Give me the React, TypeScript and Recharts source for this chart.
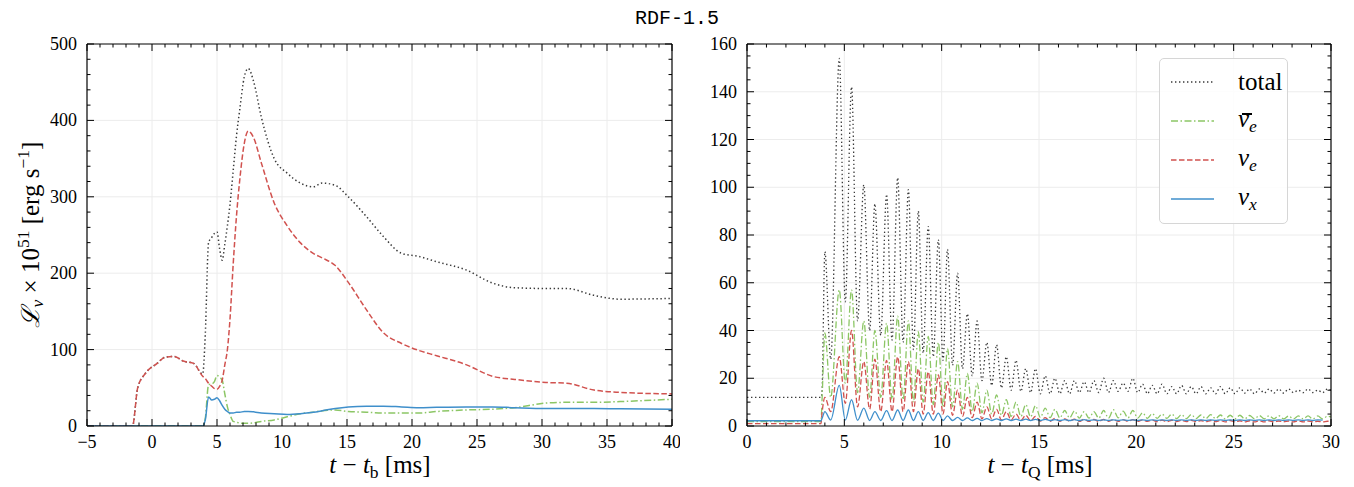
import { LineChart, Line, XAxis, YAxis, ReferenceLine, Legend } from 'recharts';

const SERIF = "'Liberation Serif', 'DejaVu Serif', serif";
const MONO = "'Liberation Mono', 'DejaVu Sans Mono', monospace";

// left panel: t - t_b [ms]
const tb = [-5, -1.5, -1.1, -0.5, 0.4, 1.0, 1.7, 2.4, 3.2, 3.9, 4.1, 4.35, 4.6, 4.8, 5.0, 5.2, 5.4, 5.6, 5.8, 6.0, 6.25, 6.5, 6.75, 7.1, 7.4, 7.8, 8.4, 9.4, 10.4, 11.4, 12.4, 13.1, 14.1, 15.1, 16.5, 17.8, 19.2, 20.5, 21.9, 24.2, 26.2, 27.9, 30.3, 31.9, 34, 36, 40];
const totalB = [0, 0, 50, 69, 82, 90, 91, 85, 82, 68, 120, 240, 247, 252, 254, 232, 217, 238, 262, 290, 335, 380, 414, 457, 468, 452, 405, 350, 331, 318, 313, 318, 315, 300, 274, 248, 226, 222, 215, 204, 187, 181, 180, 180, 171, 166, 167];
const nuebarB = [0, 0, 0, 0, 0, 0, 0, 0, 0, 0, 10, 54, 55, 58, 66, 64, 60, 42, 25, 15, 6, 5, 4, 3.5, 3.5, 4, 6, 8, 12, 16, 18, 20, 21, 19, 18, 17, 17, 17, 19, 21, 22, 24, 30, 31, 31, 32, 35];
const nueB = [0, 0, 50, 69, 82, 90, 91, 85, 82, 65, 62, 56, 52, 49, 48, 52, 60, 80, 100, 140, 213, 275, 322, 370, 386, 378, 345, 292, 262, 240, 226, 220, 210, 188, 152, 122, 108, 99, 92, 80, 65, 61, 57, 56, 47, 44, 42];
const nuxB = [0, 0, 0, 0, 0, 0, 0, 0, 0, 0, 8, 38, 34, 35, 37, 33, 27, 22, 19, 17, 17, 18, 18, 19, 19, 18.5, 17, 16, 15, 16, 18, 20, 23, 25, 26, 26, 25, 24, 24.5, 25, 25, 24, 23, 23, 23, 22.5, 22];

// right panel: t - t_Q [ms]
const tq = [0, 3.8, 3.85, 4.0, 4.3, 4.74, 5.05, 5.37, 5.68, 6.0, 6.3, 6.57, 6.87, 7.17, 7.45, 7.74, 8.02, 8.29, 8.55, 8.8, 9.05, 9.31, 9.57, 9.83, 10.07, 10.3, 10.56, 10.82, 11.07,
  11.32, 11.57, 11.82, 12.07, 12.32, 12.57, 12.82, 13.07, 13.32, 13.57, 13.82, 14.07, 14.32, 14.57, 14.82, 15.07, 15.32, 15.57, 15.82, 16.07, 16.32, 16.57, 16.82, 17.07, 17.32, 17.57, 17.82, 18.07, 18.32, 18.57, 18.82, 19.07, 19.32, 19.57, 19.82, 20.07, 20.32,
  20.57, 20.82, 21.07, 21.32, 21.57, 21.82, 22.07, 22.32, 22.57, 22.82, 23.07, 23.32, 23.57, 23.82, 24.07, 24.32, 24.57, 24.82, 25.07, 25.32, 25.57, 25.82, 26.07, 26.32, 26.57, 26.82, 27.07, 27.32, 27.57, 27.82, 28.07, 28.32, 28.57, 28.82, 29.07, 29.32, 29.57, 29.82, 30];
const totalQ = [12, 12, 14,
  73, 28, 154, 52, 142, 44, 101, 40, 93, 38, 97, 36, 104, 35, 99, 32, 90, 30.5, 83.5, 29, 78, 27.5, 74, 25.5, 64, 24,
  47, 21, 44, 19, 35, 17, 34, 16, 29, 15, 27.5, 14.5, 24, 14, 24, 13.5, 21, 13.5, 20, 13.5, 19, 13.5, 19, 14, 18.5, 14, 19, 14, 20, 14, 19, 14.5, 18, 14.5, 20, 14, 17.5,
  13.5, 17, 13.5, 17.5, 13.5, 16.5, 13.5, 17, 13.5, 16.5, 13.5, 16.5, 13.5, 16, 13.5, 16.5, 13.5, 16, 13.5, 16, 13.8, 15.5, 13.5, 15.5, 13.8, 15.5, 13.8, 15.5, 13.8, 15.5, 14, 15, 14, 15.5, 14, 15, 14, 15.5,
  15];
const nuebarQ = [1.8, 1.8, 10,
  39, 12, 57, 18, 57, 14, 44, 12, 40, 12, 43, 11, 46, 11, 44, 10, 39.5, 10, 37.5, 9, 35, 8, 32.5, 8, 27, 7,
  22, 6, 18, 5.5, 15, 5, 13, 4.5, 11, 4, 10, 4, 9, 3.8, 8.5, 3.6, 7.5, 3.5, 7, 3.4, 6.5, 3.4, 6.3, 3.3, 6, 3.3, 6, 3.3, 6.5, 3.3, 6.8, 3.4, 6.2, 3.4, 6.5, 3.3, 5.5,
  3.2, 5.2, 3.2, 5, 3.2, 5, 3.1, 4.8, 3.1, 4.8, 3.1, 4.6, 3.1, 4.8, 3.1, 4.6, 3.0, 4.5, 3.0, 4.5, 3.0, 4.4, 3.0, 4.4, 3.0, 4.3, 3.0, 4.3, 3.0, 4.2, 3.0, 4.2, 3.0, 4.2, 3.0, 4.2, 3.0, 4.1,
  3.8];
const nueQ = [1.0, 1.0, 5,
  12, 6, 29, 9.5, 40, 8, 27, 7, 28, 6, 27.5, 6, 29, 6, 27, 6, 24, 5, 22.7, 5, 21.4, 5, 18.6, 4.5, 15, 4,
  12, 3.5, 10, 3, 8, 3, 7, 2.5, 6, 2.5, 5, 2.3, 4.5, 2.2, 4, 2.1, 3.5, 2, 3.2, 2, 3, 2, 2.9, 1.9, 2.8, 1.9, 2.8, 1.9, 2.8, 1.9, 2.7, 1.9, 2.7, 1.9, 2.7, 1.9, 2.6,
  1.9, 2.5, 1.8, 2.5, 1.8, 2.4, 1.8, 2.4, 1.8, 2.4, 1.8, 2.3, 1.8, 2.3, 1.8, 2.3, 1.7, 2.3, 1.7, 2.2, 1.7, 2.2, 1.7, 2.2, 1.7, 2.2, 1.7, 2.1, 1.7, 2.1, 1.7, 2.1, 1.7, 2.1, 1.7, 2.0, 1.7, 2.0,
  1.9];
const nuxQ = [2.2, 2.2, 3,
  6, 2.5, 17, 2.5, 11, 2.4, 7.5, 2.3, 6, 2.3, 6.4, 2.3, 6.7, 2.3, 6.7, 2.3, 6, 2.3, 5.6, 2.3, 5.4, 2.3, 4.2, 2.3, 3.6, 2.3,
  3.4, 2.3, 3.2, 2.3, 3.1, 2.3, 3.0, 2.3, 3.0, 2.3, 2.9, 2.3, 2.9, 2.3, 2.8, 2.3, 2.8, 2.3, 2.7, 2.3, 2.7, 2.3, 2.7, 2.3, 2.7, 2.3, 2.6, 2.3, 2.6, 2.3, 2.6, 2.3, 2.6, 2.3, 2.6, 2.3, 2.6,
  2.3, 2.6, 2.3, 2.6, 2.3, 2.6, 2.3, 2.6, 2.3, 2.6, 2.3, 2.6, 2.3, 2.6, 2.3, 2.6, 2.3, 2.6, 2.3, 2.6, 2.3, 2.6, 2.3, 2.6, 2.3, 2.6, 2.3, 2.6, 2.3, 2.6, 2.3, 2.6, 2.3, 2.6, 2.3, 2.6,
  2.5];

// ticks
const xMajorB = [-5, 0, 5, 10, 15, 20, 25, 30, 35, 40];
const xMinorB = Array.from({ length: 46 }, (_, i) => i - 5);
const yMajorB = [0, 100, 200, 300, 400, 500];
const yMinorB = Array.from({ length: 26 }, (_, i) => i * 20);
const xMajorQ = [0, 5, 10, 15, 20, 25, 30];
const xMinorQ = Array.from({ length: 31 }, (_, i) => i);
const yMajorQ = [0, 20, 40, 60, 80, 100, 120, 140, 160];
const yMinorQ = Array.from({ length: 33 }, (_, i) => i * 5);

const seriesKeys = ['total', 'nuebar', 'nue', 'nux'];
const seriesStyle: Record<string, { color: string; dash?: string }> = {
  total: { color: '#3a3a3a', dash: '1.4 2.6' },
  nuebar: { color: '#8cc665', dash: '7 2.5 1.5 2.5' },
  nue: { color: '#d1524f', dash: '5.5 2.5' },
  nux: { color: '#3f8fcb' },
};

const leftData = tb.map((t, i) => ({ t, total: totalB[i], nuebar: nuebarB[i], nue: nueB[i], nux: nuxB[i] }));
const rightData = tq.map((t, i) => ({ t, total: totalQ[i], nuebar: nuebarQ[i], nue: nueQ[i], nux: nuxQ[i] }));

const H = 487;
const TOP = 44;
const XAXIS_H = 61;
const TICK_FS = 18;

const fmt = (v: number) => (v < 0 ? '\u2212' + Math.abs(v) : String(v));

function makeXTick(majors: number[], plotTop: number) {
  return (props: any) => {
    const { x, y, payload } = props;
    const v = payload.value;
    const major = majors.includes(v);
    const len = major ? 7 : 3.5;
    return (
      <g>
        <line x1={x} x2={x} y1={y} y2={y - len} stroke="#000" strokeWidth={1} />
        <line x1={x} x2={x} y1={plotTop} y2={plotTop + len} stroke="#000" strokeWidth={1} />
        {major && (
          <text x={x} y={y + 22} textAnchor="middle" fontFamily={SERIF} fontSize={TICK_FS} fill="#000">
            {fmt(v)}
          </text>
        )}
      </g>
    );
  };
}

function makeYTick(majors: number[], plotRight: number) {
  return (props: any) => {
    const { x, y, payload } = props;
    const v = payload.value;
    const major = majors.includes(v);
    const len = major ? 7 : 3.5;
    return (
      <g>
        <line x1={x} x2={x + len} y1={y} y2={y} stroke="#000" strokeWidth={1} />
        <line x1={plotRight} x2={plotRight - len} y1={y} y2={y} stroke="#000" strokeWidth={1} />
        {major && (
          <text x={x - 10} y={y + 6} textAnchor="end" fontFamily={SERIF} fontSize={TICK_FS} fill="#000">
            {fmt(v)}
          </text>
        )}
      </g>
    );
  };
}

const Sub = ({ children }: { children: any }) => (
  <span style={{ fontSize: '0.7em', verticalAlign: '-0.28em', fontStyle: 'italic' }}>{children}</span>
);

// nu with a bar on top
const NuBar = () => (
  <span style={{ position: 'relative', display: 'inline-block', lineHeight: 1 }}>
    <i>{'\u03BD'}</i>
    <span
      style={{
        position: 'absolute',
        left: '0.14em',
        top: '0.3em',
        width: '0.4em',
        height: 1.5,
        background: '#000',
      }}
    />
  </span>
);

const legendLabels: Record<string, any> = {
  total: <span>total</span>,
  nuebar: <span><NuBar /><Sub>e</Sub></span>,
  nue: <span><i>{'\u03BD'}</i><Sub>e</Sub></span>,
  nux: <span><i>{'\u03BD'}</i><Sub>x</Sub></span>,
};

function renderLegend() {
  return (
    <div
      style={{
        boxSizing: 'border-box',
        width: 129,
        height: 166,
        border: '1px solid #d6d6d6',
        borderRadius: 5,
        background: 'rgba(255,255,255,0.85)',
        paddingTop: 3,
      }}
    >
      {seriesKeys.map((k) => (
        <div key={k} style={{ display: 'flex', alignItems: 'center', height: 39 }}>
          <svg width={54} height={10} style={{ flex: 'none' }}>
            <line x1={11} x2={54} y1={5} y2={5} stroke={seriesStyle[k].color} strokeWidth={1.5} strokeDasharray={seriesStyle[k].dash} />
          </svg>
          <span style={{ marginLeft: 24, fontFamily: SERIF, fontSize: 25, lineHeight: 1, color: '#000' }}>{legendLabels[k]}</span>
        </div>
      ))}
    </div>
  );
}

function Panel(props: {
  data: any[];
  width: number;
  yAxisW: number;
  right: number;
  xDomain: [number, number];
  yDomain: [number, number];
  xMajor: number[];
  xMinor: number[];
  yMajor: number[];
  yMinor: number[];
  strokeWidth: number;
  legend?: boolean;
}) {
  const { data, width, yAxisW, right, xDomain, yDomain, xMajor, xMinor, yMajor, yMinor } = props;
  const plotRight = width - right;
  return (
    <LineChart width={width} height={H} data={data} margin={{ top: TOP, right, left: 0, bottom: 0 }}>
      {xMajor.slice(1, -1).map((v) => (
        <ReferenceLine key={'gx' + v} x={v} stroke="#ececec" strokeWidth={1} />
      ))}
      {yMajor.slice(1, -1).map((v) => (
        <ReferenceLine key={'gy' + v} y={v} stroke="#ececec" strokeWidth={1} />
      ))}
      <XAxis
        dataKey="t"
        type="number"
        domain={xDomain}
        ticks={xMinor}
        interval={0}
        height={XAXIS_H}
        tickSize={0}
        tickMargin={0}
        tickLine={false}
        axisLine={{ stroke: '#000', strokeWidth: 1.2 }}
        tick={makeXTick(xMajor, TOP)}
        allowDataOverflow
      />
      <YAxis
        type="number"
        domain={yDomain}
        ticks={yMinor}
        interval={0}
        width={yAxisW}
        tickSize={0}
        tickMargin={0}
        tickLine={false}
        axisLine={{ stroke: '#000', strokeWidth: 1.2 }}
        tick={makeYTick(yMajor, plotRight)}
        allowDataOverflow
      />
      {seriesKeys.map((k) => (
        <Line
          key={k}
          dataKey={k}
          type="monotone"
          stroke={seriesStyle[k].color}
          strokeWidth={props.strokeWidth}
          strokeDasharray={seriesStyle[k].dash}
          dot={false}
          activeDot={false}
          isAnimationActive={false}
        />
      ))}
      <ReferenceLine x={xDomain[1]} stroke="#000" strokeWidth={1.2} />
      <ReferenceLine y={yDomain[1]} stroke="#000" strokeWidth={1.2} />
      {props.legend && (
        <Legend
          layout="vertical"
          align="center"
          verticalAlign="middle"
          content={renderLegend}
          wrapperStyle={{ left: 479, top: 58, width: 129, height: 166 }}
        />
      )}
    </LineChart>
  );
}

export default function App() {
  return (
    <div style={{ position: 'absolute', left: 0, top: 0, width: 1354, height: H, background: '#fff', overflow: 'hidden' }}>
      <div style={{ position: 'absolute', left: 0, top: 0 }}>
        <Panel
          data={leftData}
          width={680}
          yAxisW={87}
          right={8}
          xDomain={[-5, 40]}
          yDomain={[0, 500]}
          xMajor={xMajorB}
          xMinor={xMinorB}
          yMajor={yMajorB}
          yMinor={yMinorB}
          strokeWidth={1.5}
        />
      </div>
      <div style={{ position: 'absolute', left: 680, top: 0 }}>
        <Panel
          data={rightData}
          width={674}
          yAxisW={67}
          right={23}
          xDomain={[0, 30]}
          yDomain={[0, 160]}
          xMajor={xMajorQ}
          xMinor={xMinorQ}
          yMajor={yMajorQ}
          yMinor={yMinorQ}
          strokeWidth={1.3}
          legend
        />
      </div>
      <div style={{ position: 'absolute', left: 677, top: 18, transform: 'translate(-50%, -50%)', fontFamily: MONO, fontSize: 20, whiteSpace: 'nowrap' }}>
        RDF-1.5
      </div>
      <div
        style={{
          position: 'absolute',
          left: 30,
          top: 235,
          transform: 'translate(-50%, -50%) rotate(-90deg)',
          fontFamily: SERIF,
          fontSize: 25,
          whiteSpace: 'nowrap',
        }}
      >
        <i>{'\u2112'}</i>
        <Sub>{'\u03BD'}</Sub> × 10<sup style={{ fontSize: '0.7em' }}>51</sup> [erg s<sup style={{ fontSize: '0.7em' }}>{'\u22121'}</sup>]
      </div>
      <div style={{ position: 'absolute', left: 380, top: 467, transform: 'translate(-50%, -50%)', fontFamily: SERIF, fontSize: 25, whiteSpace: 'nowrap' }}>
        <i>t</i> {'\u2212'} <i>t</i>
        <span style={{ fontSize: '0.7em', verticalAlign: '-0.28em' }}>b</span> [ms]
      </div>
      <div style={{ position: 'absolute', left: 1040, top: 467, transform: 'translate(-50%, -50%)', fontFamily: SERIF, fontSize: 25, whiteSpace: 'nowrap' }}>
        <i>t</i> {'\u2212'} <i>t</i>
        <span style={{ fontSize: '0.7em', verticalAlign: '-0.28em' }}>Q</span> [ms]
      </div>
    </div>
  );
}
